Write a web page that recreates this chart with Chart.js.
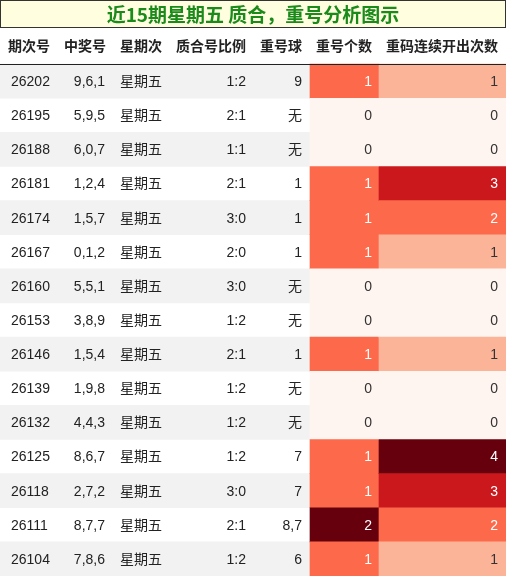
<!DOCTYPE html>
<html lang="zh">
<head>
<meta charset="UTF-8">
<script src="https://cdn.jsdelivr.net/npm/chart.js"></script>
<style>
    body { margin: 0; padding: 0; background: #fff; }
    #wrap { width: 506px; height: 576px; position: relative; }
</style>
</head>
<body>
<div id="wrap"><canvas id="tbl"></canvas></div>
<script>
// table data
const headers = ['期次号', '中奖号', '星期次', '质合号比例', '重号球', '重号个数', '重码连续开出次数'];
const periods = ['26202', '26195', '26188', '26181', '26174', '26167', '26160', '26153', '26146', '26139', '26132', '26125', '26118', '26111', '26104'];
const numbers = ['9,6,1', '5,9,5', '6,0,7', '1,2,4', '1,5,7', '0,1,2', '5,5,1', '3,8,9', '1,5,4', '1,9,8', '4,4,3', '8,6,7', '2,7,2', '8,7,7', '7,8,6'];
const weekday = '星期五';
const ratios = ['1:2', '2:1', '1:1', '2:1', '3:0', '2:0', '3:0', '1:2', '2:1', '1:2', '1:2', '1:2', '3:0', '2:1', '1:2'];
const repeatBalls = ['9', '无', '无', '1', '1', '1', '无', '无', '1', '无', '无', '7', '7', '8,7', '6'];
const repeatCount = [1, 0, 0, 1, 1, 1, 0, 0, 1, 0, 0, 1, 1, 2, 1];
const streak = [1, 0, 0, 3, 2, 1, 0, 0, 1, 0, 0, 4, 3, 2, 1];

// layout: column edges in pixels (x scale is 0..506)
const colEdges = [0, 57, 110, 168, 250, 310, 379, 506];
const textX = [11, 105, 120, 246, 302, 372, 498];
const textAlign = ['left', 'right', 'left', 'right', 'right', 'right', 'right'];
const headX = [8, 106, 120, 246, 302, 372, 498];
const headAlign = ['left', 'right', 'left', 'right', 'right', 'right', 'right'];

const countColors = ['#fff5f0', '#fc6a4b', '#67000d'];
const streakColors = ['#fff5f0', '#fcb499', '#fc6a4b', '#cb181d', '#67000d'];

const rows = ['header'].concat(periods);

const stripeData = rows.map((r, i) => (i > 0 && i % 2 === 1) ? [0, 506] : null);
const countData = rows.map((r, i) => i > 0 ? [colEdges[5], colEdges[6]] : null);
const streakData = rows.map((r, i) => i > 0 ? [colEdges[6], colEdges[7]] : null);

function cellTexts(i) {
    return [periods[i], numbers[i], weekday, ratios[i], repeatBalls[i], String(repeatCount[i]), String(streak[i])];
}

const titlePlugin = {
    id: 'titleBox',
    beforeDraw(chart) {
        const ctx = chart.ctx;
        ctx.save();
        ctx.fillStyle = '#ffffe0';
        ctx.fillRect(0.5, 0.5, 505, 27);
        ctx.strokeStyle = '#333';
        ctx.lineWidth = 1;
        ctx.strokeRect(0.5, 0.5, 505, 27);
        ctx.fillStyle = '#1a8a1a';
        ctx.font = 'bold 19px "Noto Sans CJK SC", "Liberation Sans", sans-serif';
        ctx.textAlign = 'center';
        ctx.textBaseline = 'middle';
        ctx.fillText('近15期星期五 质合，重号分析图示', 253, 15);
        ctx.restore();
    }
};

const textPlugin = {
    id: 'cellText',
    afterDatasetsDraw(chart) {
        const ctx = chart.ctx;
        const y = chart.scales.y;
        ctx.save();
        ctx.textBaseline = 'middle';
        // header
        ctx.font = 'bold 14px "Liberation Sans", "Noto Sans CJK SC", sans-serif';
        ctx.fillStyle = '#222';
        const hy = y.getPixelForValue(0);
        headers.forEach((h, c) => {
            ctx.textAlign = headAlign[c];
            ctx.fillText(h, headX[c], hy);
        });
        const lineY = Math.round(hy + 17) + 0.5;
        ctx.strokeStyle = '#222';
        ctx.lineWidth = 1.2;
        ctx.beginPath();
        ctx.moveTo(0, lineY);
        ctx.lineTo(506, lineY);
        ctx.stroke();
        // body
        ctx.font = '14px "Liberation Sans", "Noto Sans CJK SC", sans-serif';
        periods.forEach((p, i) => {
            const py = y.getPixelForValue(i + 1) + 1;
            cellTexts(i).forEach((t, c) => {
                let col = '#222';
                if (c === 5 && repeatCount[i] > 0) col = '#fff';
                if (c === 6 && streak[i] > 1) col = '#fff';
                if ((c === 5 && repeatCount[i] === 0) || (c === 6 && streak[i] <= 1)) col = '#333';
                ctx.fillStyle = col;
                ctx.textAlign = textAlign[c];
                ctx.fillText(t, textX[c], py);
            });
        });
        ctx.restore();
    }
};

new Chart(document.getElementById('tbl'), {
    type: 'bar',
    data: {
        labels: rows,
        datasets: [
            { data: stripeData, backgroundColor: '#f2f2f2', grouped: false, order: 3 },
            { data: countData, grouped: false, order: 2,
              backgroundColor: rows.map((r, i) => i > 0 ? countColors[repeatCount[i - 1]] : 'transparent') },
            { data: streakData, grouped: false, order: 1,
              backgroundColor: rows.map((r, i) => i > 0 ? streakColors[streak[i - 1]] : 'transparent') }
        ]
    },
    options: {
        indexAxis: 'y',
        responsive: true,
        maintainAspectRatio: false,
        animation: false,
        layout: { padding: { top: 30, left: 0, right: 0, bottom: 0 } },
        datasets: { bar: { categoryPercentage: 1, barPercentage: 1, borderWidth: 0 } },
        scales: {
            x: { type: 'linear', min: 0, max: 506, display: false },
            y: { type: 'category', display: false, offset: true }
        },
        plugins: { legend: { display: false }, tooltip: { enabled: false } }
    },
    plugins: [titlePlugin, textPlugin]
});
</script>
</body>
</html>
